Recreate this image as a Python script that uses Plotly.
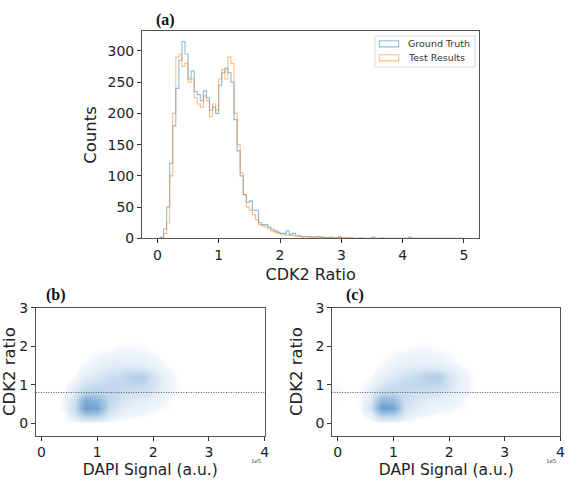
import plotly.graph_objects as go

# ---------------- Panel (a): histogram of CDK2 ratio (bin width 0.05, 0..5) ----------------
bin_edges = [round(i * 0.05, 2) for i in range(101)]
gt_counts = [0, 2, 15, 50, 120, 180, 240, 285, 315, 295,
             255, 268, 235, 230, 220, 236, 225, 205, 210, 200,
             245, 265, 272, 265, 250, 190, 140, 100, 70, 58,
             60, 45, 45, 25, 22, 22, 18, 15, 12, 10,
             8, 8, 12, 6, 8, 5, 4, 3, 3, 3,
             2, 2, 3, 2, 2, 1, 2, 1, 1, 2,
             1, 1, 1, 1, 0, 0, 1, 0, 0, 0,
             2, 0, 0, 1, 0, 0, 0, 0, 0, 0,
             0, 0, 2, 0, 0, 0, 0, 0, 0, 0,
             0, 0, 0, 0, 0, 0, 0, 0, 0, 0]
test_counts = [0, 1, 8, 25, 100, 200, 290, 295, 275, 280,
               250, 255, 225, 215, 210, 228, 220, 195, 215, 205,
               255, 270, 255, 290, 280, 200, 150, 105, 70, 50,
               45, 38, 30, 22, 20, 18, 15, 12, 10, 8,
               7, 6, 5, 5, 4, 3, 3, 2, 2, 2,
               2, 1, 1, 2, 1, 1, 1, 1, 1, 2,
               1, 1, 1, 0, 0, 0, 0, 0, 0, 0,
               0, 0, 0, 0, 0, 0, 0, 0, 0, 0,
               0, 0, 0, 0, 0, 0, 0, 0, 0, 0,
               0, 0, 0, 0, 0, 0, 0, 0, 0, 0]
legend_names = ["Ground Truth", "Test Results"]

# ---------------- Panels (b), (c): estimated point density (x in 1e5 a.u., y CDK2 ratio) ----------------
grid_x = [0.0, 0.2, 0.4, 0.6, 0.8, 1.0, 1.2, 1.4, 1.6, 1.8, 2.0, 2.2, 2.4, 2.6, 2.8, 3.0]
grid_y = [0.0, 0.2, 0.4, 0.6, 0.8, 1.0, 1.2, 1.4, 1.6, 1.8, 2.0, 2.2, 2.4]
density_b = [
    [0, 0, 0, 0, 0, 0, 0, 0, 0, 0, 0, 0, 0, 0, 0, 0],
    [0, 0, 0.1, 1, 3, 3, 1, 0.5, 0.3, 0.2, 0.1, 0.05, 0, 0, 0, 0],
    [0, 0, 0.3, 2, 9, 8, 2, 1, 0.6, 0.5, 0.3, 0.2, 0.1, 0.05, 0, 0],
    [0, 0, 0.3, 1.5, 7, 6, 2.5, 1.5, 1, 0.8, 0.5, 0.3, 0.1, 0.05, 0, 0],
    [0, 0, 0.2, 1, 3, 3, 2.5, 2, 1.6, 1.4, 1, 0.5, 0.2, 0.1, 0.05, 0],
    [0, 0, 0.1, 0.5, 1.5, 2, 2.5, 2.5, 2.5, 2.5, 1.5, 0.6, 0.2, 0.1, 0, 0],
    [0, 0, 0, 0.2, 0.8, 1.2, 1.8, 2.2, 3, 3.5, 1.5, 0.6, 0.2, 0.05, 0, 0],
    [0, 0, 0, 0.1, 0.4, 0.7, 1, 1.2, 1.3, 1.2, 0.8, 0.3, 0.1, 0, 0, 0],
    [0, 0, 0, 0, 0.2, 0.4, 0.6, 0.7, 0.7, 0.6, 0.4, 0.2, 0, 0, 0, 0],
    [0, 0, 0, 0, 0.1, 0.2, 0.3, 0.4, 0.4, 0.3, 0.2, 0.1, 0, 0, 0, 0],
    [0, 0, 0, 0, 0, 0.1, 0.1, 0.2, 0.2, 0.2, 0.1, 0, 0, 0, 0, 0],
    [0, 0, 0, 0, 0, 0, 0.05, 0.1, 0.1, 0.1, 0.05, 0, 0, 0, 0, 0],
    [0, 0, 0, 0, 0, 0, 0, 0, 0, 0, 0, 0, 0, 0, 0, 0],
]
density_c = [
    [0, 0, 0, 0, 0, 0, 0, 0, 0, 0, 0, 0, 0, 0, 0, 0],
    [0, 0, 0, 0.5, 2.5, 2.5, 0.8, 0.4, 0.2, 0.1, 0.1, 0, 0, 0, 0, 0],
    [0.05, 0, 0.2, 1.5, 9, 8, 1.5, 0.8, 0.5, 0.4, 0.3, 0.2, 0.1, 0.05, 0, 0],
    [0.15, 0.05, 0.2, 1, 6, 5, 2, 1.2, 0.8, 0.7, 0.5, 0.3, 0.1, 0.05, 0, 0],
    [0.25, 0.05, 0.2, 0.8, 2.5, 2.5, 2, 1.8, 1.5, 1.3, 0.9, 0.4, 0.2, 0.1, 0.05, 0],
    [0.2, 0.05, 0.1, 0.4, 1.2, 1.8, 2.4, 2.6, 2.6, 2.5, 1.4, 0.5, 0.2, 0.1, 0, 0],
    [0.1, 0, 0, 0.2, 0.6, 1, 1.6, 2.2, 3.2, 3.6, 1.4, 0.5, 0.2, 0.05, 0, 0],
    [0, 0, 0, 0.1, 0.3, 0.6, 0.9, 1.1, 1.2, 1.1, 0.7, 0.3, 0.1, 0, 0, 0],
    [0, 0, 0, 0, 0.2, 0.3, 0.5, 0.6, 0.6, 0.5, 0.3, 0.1, 0, 0, 0, 0],
    [0, 0, 0, 0, 0.1, 0.2, 0.3, 0.35, 0.35, 0.3, 0.2, 0.1, 0, 0, 0, 0],
    [0, 0, 0, 0, 0, 0.1, 0.1, 0.15, 0.2, 0.15, 0.1, 0, 0, 0, 0, 0],
    [0, 0, 0, 0, 0, 0, 0.05, 0.1, 0.1, 0.05, 0, 0, 0, 0, 0, 0],
    [0, 0, 0, 0, 0, 0, 0, 0, 0, 0, 0, 0, 0, 0, 0, 0],
]
threshold = 0.8
panel_labels = ["(a)", "(b)", "(c)"]


def step_xy(edges, counts):
    xs = [edges[0]] + edges[:-1] + [edges[-1]]
    ys = [0] + counts + [0]
    return xs, ys


W, H = 573, 482
def px_x(a, b):
    return [a / W, b / W]
def px_y(top, bottom):
    return [1 - bottom / H, 1 - top / H]

hist_colors = ["rgba(31,119,180,0.5)", "rgba(255,127,14,0.5)"]

fig = go.Figure()

for counts, name, col in zip([gt_counts, test_counts], legend_names, hist_colors):
    sx, sy = step_xy(bin_edges, counts)
    fig.add_trace(go.Scatter(x=sx, y=sy, mode="lines", line=dict(shape="hv", color=col, width=1.1),
                             name=name, showlegend=False, xaxis="x", yaxis="y"))

cscale = [[0, "rgba(255,255,255,0)"], [0.008, "rgba(255,255,255,0)"], [0.03, "rgb(240,246,251)"],
          [0.15, "rgb(212,228,242)"], [0.45, "rgb(165,198,228)"], [1, "rgb(105,155,204)"]]
for dens, xa, ya in [(density_b, "x2", "y2"), (density_c, "x3", "y3")]:
    fig.add_trace(go.Heatmap(x=grid_x, y=grid_y, z=dens, zsmooth="best", colorscale=cscale,
                             zmin=0, zmax=9, showscale=False, xaxis=xa, yaxis=ya, hoverinfo="skip"))
    fig.add_trace(go.Scatter(x=[-0.1, 4], y=[threshold, threshold], mode="lines",
                             line=dict(color="#555555", width=1, dash="1px,1.5px"), showlegend=False,
                             xaxis=xa, yaxis=ya, hoverinfo="skip"))

font = "DejaVu Sans"
axis_common = dict(showline=True, mirror=True, linecolor="#555555", linewidth=1, ticks="outside",
                   ticklen=4, tickcolor="#333333", showgrid=False, zeroline=False,
                   tickfont=dict(family=font, size=14, color="#222222"))

fig.update_layout(
    width=W, height=H, margin=dict(l=0, r=0, t=0, b=0),
    paper_bgcolor="white", plot_bgcolor="white",
    showlegend=False,
    xaxis=dict(domain=px_x(141.8, 483.2), range=[-0.25, 5.25], anchor="y",
               tickvals=[0, 1, 2, 3, 4, 5],
               title=dict(text="CDK2 Ratio", font=dict(family=font, size=16, color="#222222"), standoff=6),
               **axis_common),
    yaxis=dict(domain=px_y(24.3, 238.3), range=[0, 331], anchor="x",
               tickvals=[0, 50, 100, 150, 200, 250, 300],
               title=dict(text="Counts", font=dict(family=font, size=16.5, color="#222222"), standoff=6),
               **axis_common),
    xaxis2=dict(domain=px_x(34.3, 266), range=[-0.1, 4], anchor="y2", tickvals=[0, 1, 2, 3, 4],
                title=dict(text="DAPI Signal (a.u.)", font=dict(family=font, size=15.5, color="#222222"), standoff=4),
                **axis_common),
    yaxis2=dict(domain=px_y(310, 442.3), range=[-0.32, 3], anchor="x2", tickvals=[0, 1, 2, 3],
                title=dict(text="CDK2 ratio", font=dict(family=font, size=16.5, color="#222222"), standoff=8),
                **axis_common),
    xaxis3=dict(domain=px_x(334.3, 565.3), range=[-0.1, 4], anchor="y3", tickvals=[0, 1, 2, 3, 4],
                title=dict(text="DAPI Signal (a.u.)", font=dict(family=font, size=15.5, color="#222222"), standoff=4),
                **axis_common),
    yaxis3=dict(domain=px_y(310, 442.3), range=[-0.32, 3], anchor="x3", tickvals=[0, 1, 2, 3],
                title=dict(text="CDK2 ratio", font=dict(family=font, size=16.5, color="#222222"), standoff=8),
                **axis_common),
)

# manual legend (patch style, like matplotlib step histograms)
fig.add_shape(type="rect", xref="paper", yref="paper", x0=377.5 / W, x1=479 / W, y0=1 - 61 / H, y1=1 - 29 / H,
              line=dict(color="#d9d9d9", width=1), fillcolor="rgba(255,255,255,0.8)")
for i, (name, col) in enumerate(zip(legend_names, hist_colors)):
    cy = 37 + 14.5 * i
    fig.add_shape(type="rect", xref="paper", yref="paper", x0=382 / W, x1=401.5 / W,
                  y0=1 - (cy + 3.2) / H, y1=1 - (cy - 3.2) / H, line=dict(color=col, width=1.1),
                  fillcolor="rgba(0,0,0,0)")
    fig.add_annotation(text=name, x=409 / W, y=1 - cy / H, xref="paper", yref="paper", showarrow=False,
                       xanchor="left", yanchor="middle", font=dict(family=font, size=9.5, color="#333333"))

label_pos = [(166, 12), (55, 297), (357, 297)]
for txt, (lx, ly) in zip(panel_labels, label_pos):
    fig.add_annotation(text="<b>" + txt + "</b>", x=lx / W, y=1 - ly / H, xref="paper", yref="paper",
                       showarrow=False, xanchor="center", yanchor="middle",
                       font=dict(family="Liberation Serif", size=16, color="#111111"))
for ex in [264, 563]:
    fig.add_annotation(text="1e5", x=ex / W, y=1 - 463 / H, xref="paper", yref="paper", showarrow=False,
                       xanchor="right", yanchor="top", borderpad=0,
                       font=dict(family="Liberation Serif", size=7, color="#333333"))

fig.write_html("out.html")
